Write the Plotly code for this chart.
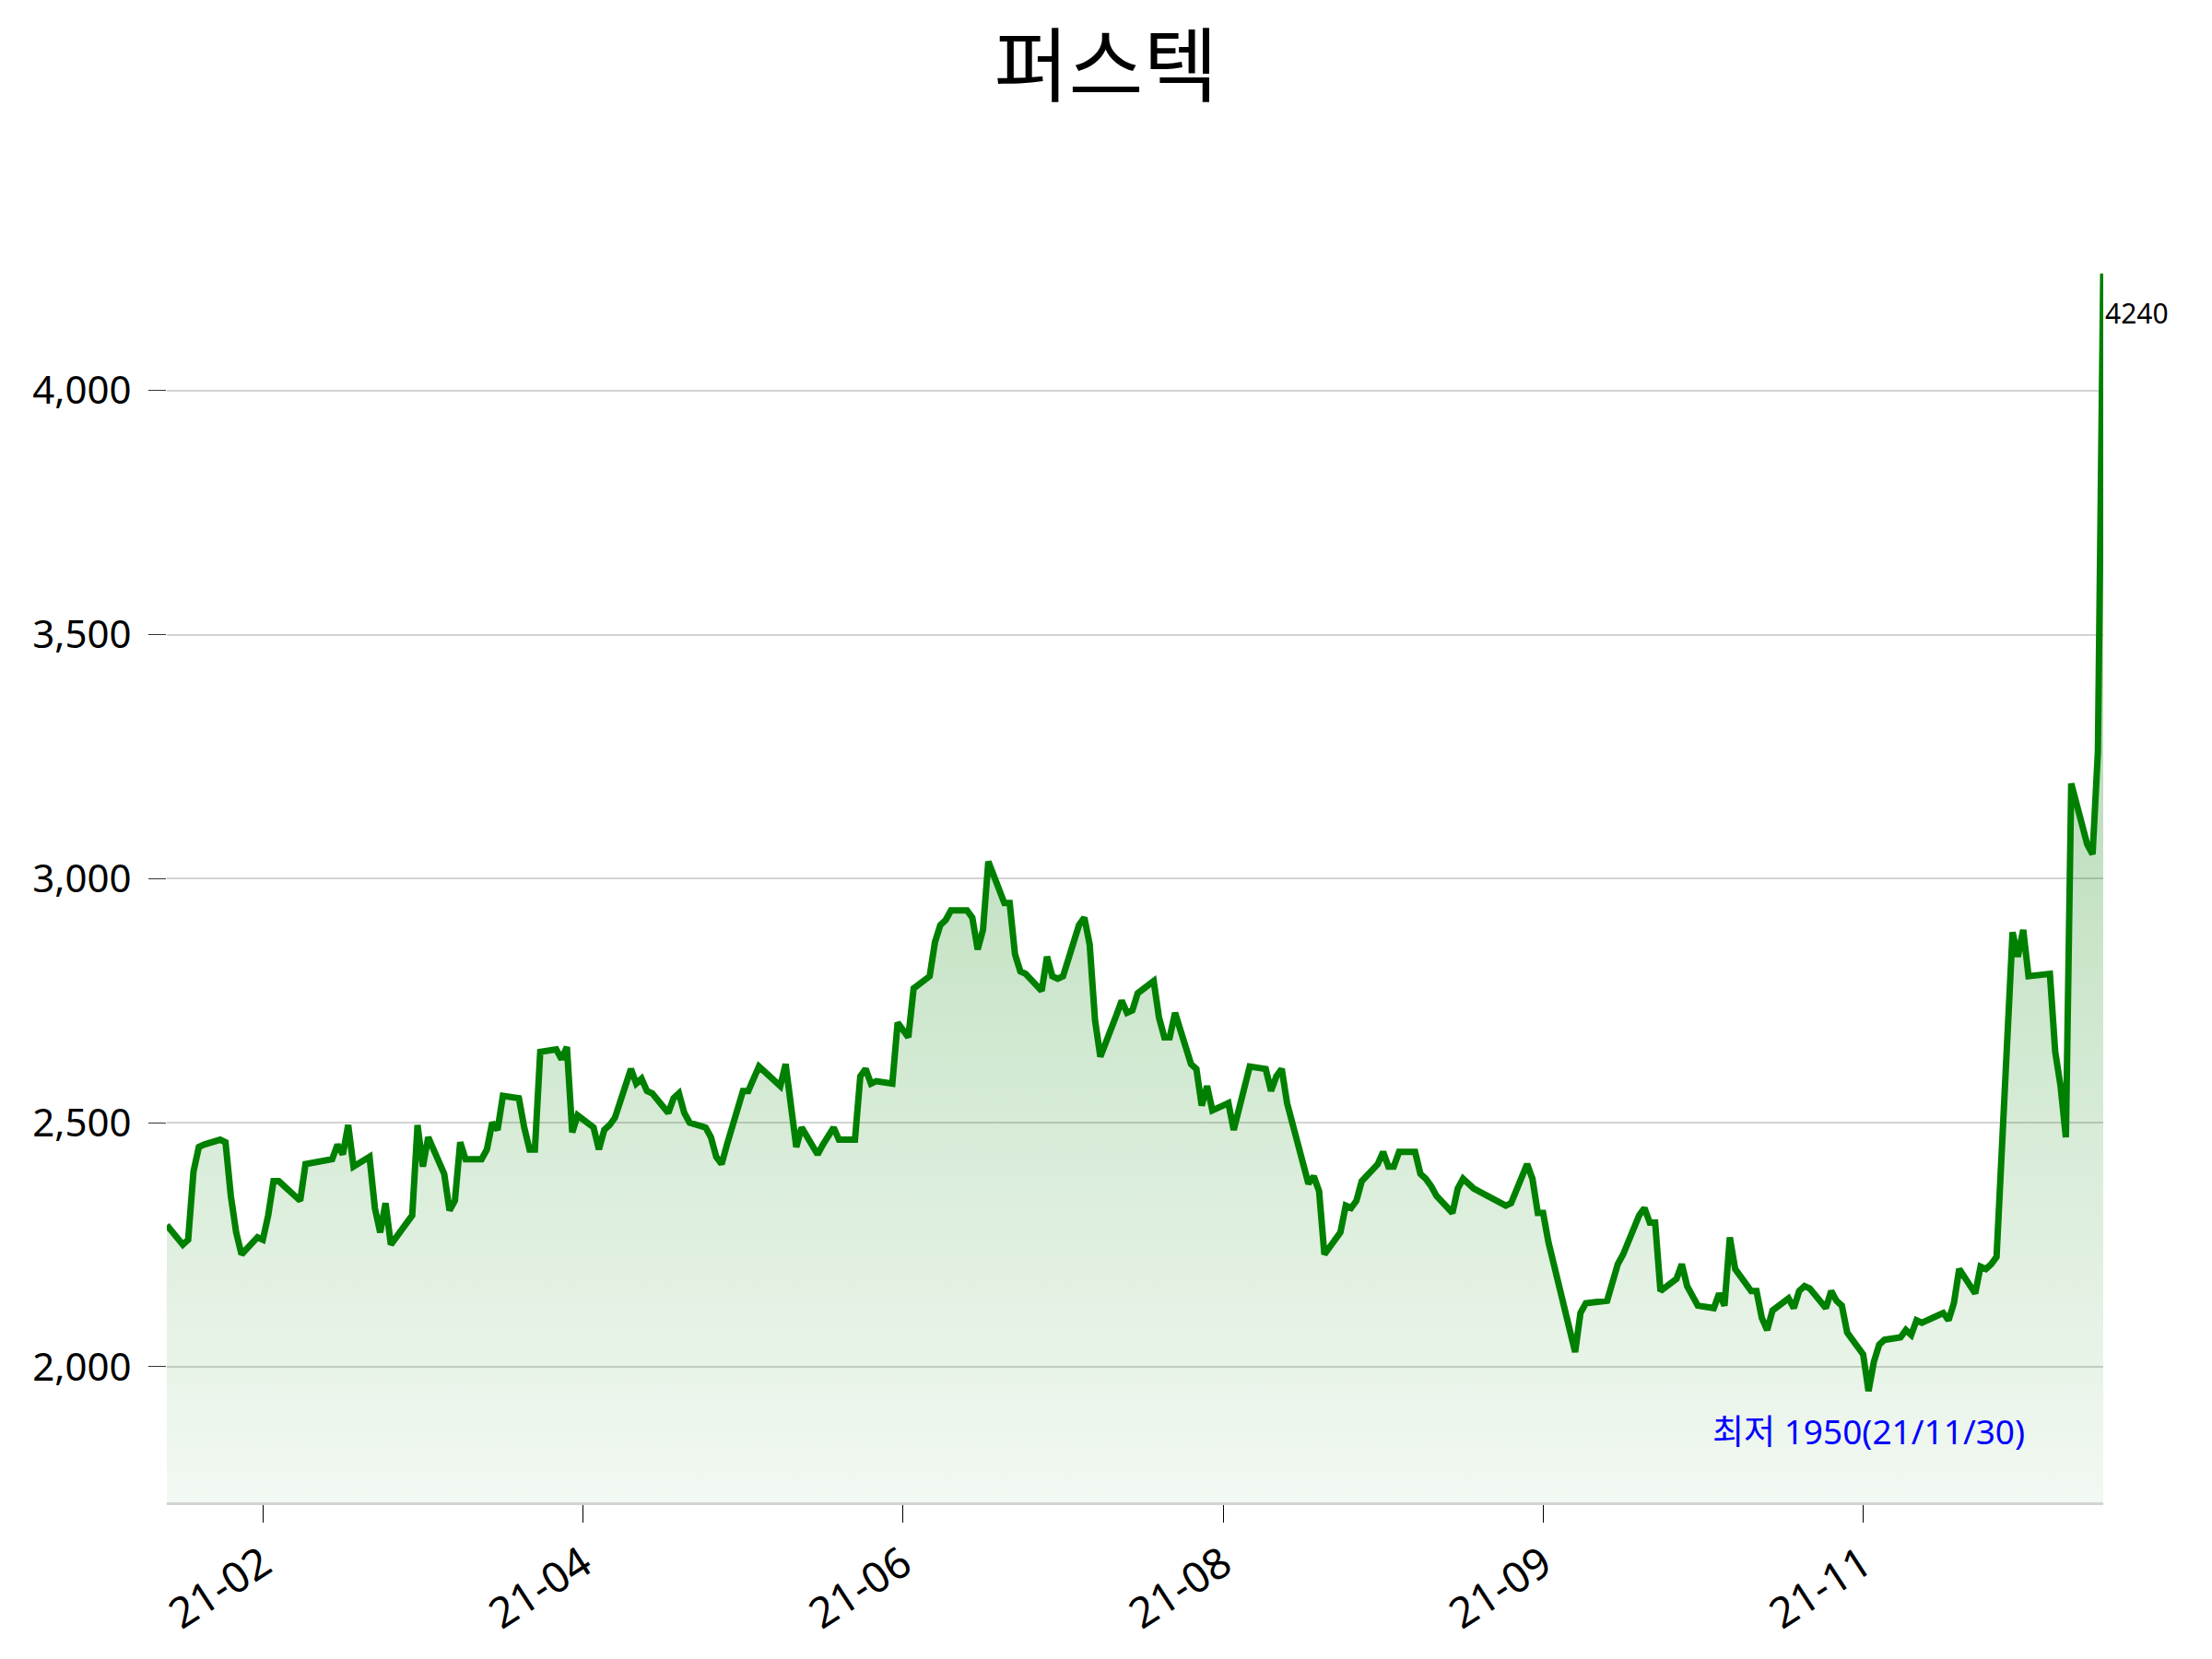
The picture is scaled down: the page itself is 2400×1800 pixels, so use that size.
import pandas as pd
import plotly.graph_objects as go

# ---------------- data ----------------
title_text = "퍼스텍"

# Korean market holidays in the period (no trading)
holidays = ["2021-02-11", "2021-02-12", "2021-03-01", "2021-05-05", "2021-05-19",
            "2021-08-16", "2021-09-20", "2021-09-21", "2021-09-22", "2021-10-04",
            "2021-10-11", "2021-12-31"]

# trading days from 2021-01-15 to 2022-01-13
dates = [d.strftime("%Y-%m-%d") for d in pd.bdate_range("2021-01-15", "2022-01-13")
         if d.strftime("%Y-%m-%d") not in holidays]

# daily closing prices
closes = [
    # 2021-01
    2290, 2250, 2260, 2400, 2450, 2455, 2465, 2460, 2350, 2275, 2230,
    # 2021-02
    2265, 2260, 2310, 2380, 2380, 2350, 2340, 2415, 2425, 2455, 2435, 2495, 2410, 2430,
    2325, 2275, 2335, 2250,
    # 2021-03
    2310, 2495, 2410, 2470, 2395, 2320, 2340, 2460, 2425, 2425, 2445, 2500, 2485, 2555,
    2550, 2490, 2445, 2445, 2645, 2650, 2630, 2655,
    # 2021-04
    2480, 2515, 2490, 2445, 2485, 2495, 2510, 2610, 2580, 2590, 2565, 2560, 2520, 2550,
    2560, 2520, 2500, 2490, 2470, 2430, 2415, 2455,
    # 2021-05
    2565, 2565, 2615, 2605, 2575, 2620, 2520, 2450, 2490, 2435, 2455, 2490, 2465, 2465,
    2595, 2610, 2580, 2585, 2580,
    # 2021-06
    2705, 2690, 2675, 2775, 2800, 2870, 2905, 2915, 2935, 2935, 2920, 2855, 2895, 3035,
    2950, 2950, 2845, 2810, 2805, 2770, 2840, 2800,
    # 2021-07
    2795, 2800, 2905, 2920, 2865, 2710, 2635, 2720, 2750, 2725, 2730, 2765, 2790, 2715,
    2675, 2675, 2725, 2620, 2610, 2535, 2575, 2525,
    # 2021-08
    2540, 2485, 2525, 2570, 2615, 2610, 2565, 2595, 2610, 2540, 2375, 2390, 2360, 2230,
    2275, 2330, 2325, 2340, 2380, 2415, 2440,
    # 2021-09
    2410, 2410, 2440, 2440, 2395, 2385, 2370, 2350, 2315, 2365, 2385, 2375, 2365, 2330,
    2335, 2415, 2385, 2315, 2315,
    # 2021-10
    2255, 2075, 2030, 2110, 2130, 2135, 2170, 2210, 2230, 2310, 2325, 2295, 2295, 2155,
    2180, 2210, 2165, 2145, 2125,
    # 2021-11
    2120, 2150, 2125, 2265, 2200, 2155, 2155, 2100, 2075, 2115, 2140, 2120, 2155, 2165,
    2160, 2120, 2155, 2135, 2125, 2070, 2025, 1950,
    # 2021-12
    2010, 2045, 2055, 2060, 2075, 2065, 2095, 2090, 2105, 2110, 2095, 2130, 2200, 2150,
    2205, 2200, 2210, 2225, 2890, 2840, 2895, 2800,
    # 2022-01
    2805, 2645, 2575, 2470, 3195, 3070, 3050, 3260, 4240,
]

tick_dates = ["2021-02-02", "2021-04-03", "2021-06-02", "2021-08-01", "2021-09-30", "2021-11-29"]
tick_labels = ["21-02", "21-04", "21-06", "21-08", "21-09", "21-11"]
y_ticks = [2000, 2500, 3000, 3500, 4000]
y_floor = 1722
y_ceil = 4247

n = min(len(dates), len(closes))
dates = dates[:n]
closes = closes[:n]

# lowest point and last point
low_i = min(range(n), key=lambda i: closes[i])
low_val = closes[low_i]
low_date = dates[low_i]
low_label = f"최저 {low_val}({low_date[2:4]}/{low_date[5:7]}/{low_date[8:10]})"
last_val = closes[-1]
y_top = max(closes)

FONT = "Noto Sans, Noto Sans CJK KR"

fig = go.Figure()
fig.add_trace(go.Scatter(
    x=dates, y=closes, mode="lines",
    line=dict(color="#008000", width=7),
    fill="tozeroy",
    fillgradient=dict(type="vertical",
                      colorscale=[[0, "rgba(0,128,0,0.05)"], [1, "rgba(0,128,0,0.40)"]],
                      start=y_floor, stop=y_top),
    hoverinfo="skip", showlegend=False,
))

fig.add_annotation(x=dates[-1], y=last_val, text=str(last_val), showarrow=False,
                   xanchor="left", yanchor="top", yshift=-20,
                   font=dict(family=FONT, size=30, color="black"))
fig.add_annotation(x=low_date, y=low_val, text=low_label, showarrow=False,
                   xanchor="center", yanchor="top", yshift=-16,
                   font=dict(family=FONT, size=37, color="blue"))

fig.update_layout(
    width=2400, height=1800,
    paper_bgcolor="white", plot_bgcolor="white",
    margin=dict(l=181, r=118, t=293, b=170),
    font=dict(family=FONT, color="black"),
    title=dict(text=title_text, x=0.5, xanchor="center", y=1 - 72 / 1800, yanchor="middle",
               yref="container", font=dict(family=FONT, size=88, color="black")),
    showlegend=False,
)
fig.update_xaxes(
    type="date", range=[dates[0], dates[-1]],
    tickmode="array", tickvals=tick_dates, ticktext=tick_labels, tickangle=-33,
    ticks="outside", ticklen=19, tickwidth=1, tickcolor="black",
    showgrid=False, zeroline=False,
    showline=True, linecolor="#d3d3d3", linewidth=3,
    tickfont=dict(family=FONT, size=46, color="black"),
)
fig.update_yaxes(
    range=[y_floor, y_ceil],
    tickmode="array", tickvals=y_ticks, tickformat=",",
    ticks="outside", ticklen=19, tickwidth=1, tickcolor="#333333",
    ticklabelstandoff=10,
    showgrid=True, gridcolor="#d3d3d3", gridwidth=1.5,
    zeroline=False, showline=False,
    tickfont=dict(family=FONT, size=42, color="black"),
)

fig.write_html("out.html")
